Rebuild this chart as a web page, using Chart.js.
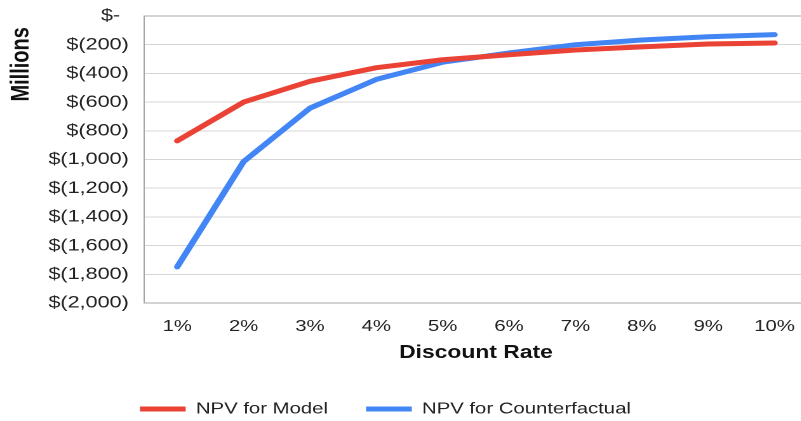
<!DOCTYPE html>
<html>
<head>
<meta charset="utf-8">
<script src="https://cdn.jsdelivr.net/npm/chart.js@4"></script>
<style>
  html, body { margin: 0; padding: 0; background: #fff; overflow: hidden; width: 801px; height: 421px; }
  #wrap { position: absolute; left: 0; top: 0; width: 640px; height: 421px; transform: scaleX(1.27); transform-origin: 0 0; }
</style>
</head>
<body>
<div id="wrap"><canvas id="c" width="640" height="421"></canvas></div>
<script>
const categories = ['1%', '2%', '3%', '4%', '5%', '6%', '7%', '8%', '9%', '10%'];
const npvModel = [-870, -600, -455, -360, -305, -270, -237, -215, -195, -188];
const npvCounterfactual = [-1748, -1015, -642, -442, -322, -258, -200, -167, -145, -130];
const seriesNames = ['NPV for Model', 'NPV for Counterfactual'];
const yTitle = 'Millions  ';
const xTitle = 'Discount Rate';

const FONT = "'Liberation Sans', Arial, sans-serif";

function fmtMoney(v) {
  if (v === 0) return '$-\u2009\u2009';
  return '$(' + Math.abs(v).toLocaleString('en-US') + ')';
}

new Chart(document.getElementById('c'), {
  type: 'line',
  data: {
    labels: categories,
    datasets: [
      { label: seriesNames[0], data: npvModel, borderColor: '#EA4335', backgroundColor: '#EA4335',
        borderWidth: 5, pointRadius: 0, tension: 0, borderCapStyle: 'round', borderJoinStyle: 'round' },
      { label: seriesNames[1], data: npvCounterfactual, borderColor: '#4285F4', backgroundColor: '#4285F4',
        borderWidth: 5, pointRadius: 0, tension: 0, borderCapStyle: 'round', borderJoinStyle: 'round' }
    ]
  },
  options: {
    responsive: false,
    animation: false,
    devicePixelRatio: 2,
    layout: { padding: { left: -31, right: 2, top: 16, bottom: -6 } },
    plugins: {
      tooltip: { enabled: false },
      legend: {
        position: 'bottom',
        labels: {
          usePointStyle: true,
          pointStyle: 'line',
          pointStyleWidth: 36,
          padding: 30,
          color: '#222',
          font: { family: FONT, size: 16 }
        }
      }
    },
    scales: {
      x: {
        offset: true,
        grid: { display: false, drawTicks: false },
        border: { display: true, color: '#a6a6a6', width: 1 },
        ticks: { color: '#222', padding: 14, font: { family: FONT, size: 16 } },
        title: { display: true, text: xTitle, color: '#111', padding: { top: 4, bottom: 7 },
                 font: { family: FONT, size: 18, weight: 'bold' } },
        afterFit: (s) => { s.height = 68; }
      },
      y: {
        min: -2000, max: 0,
        grid: { drawTicks: false, color: (ctx) => (ctx.tick && ctx.tick.value === 0) ? '#a6a6a6' : '#d6d6d6' },
        border: { display: true, color: '#a6a6a6', width: 1 },
        ticks: { stepSize: 200, color: '#222', padding: 12, font: { family: FONT, size: 17 },
                 callback: (v) => fmtMoney(v) },
        title: { display: true, text: yTitle, align: 'end', color: '#111', padding: { top: 36, bottom: 4 },
                 font: { family: FONT, size: 20, weight: 'bold' } },
        afterFit: (s) => { s.width = 144.4; s.paddingTop = 0; s.paddingBottom = 0; }
      }
    }
  }
});
</script>
</body>
</html>
